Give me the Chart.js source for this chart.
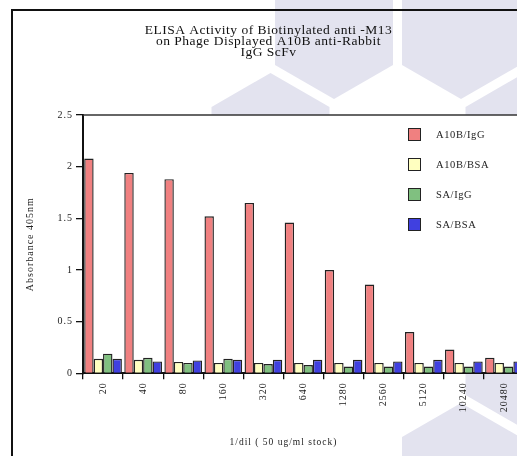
<!DOCTYPE html>
<html>
<head>
<meta charset="utf-8">
<script src="https://cdn.jsdelivr.net/npm/chart.js@4/dist/chart.umd.min.js"></script>
<style>
  html, body { margin: 0; padding: 0; width: 517px; height: 456px; overflow: hidden; background: #ffffff; }
  #wm { position: absolute; left: 0; top: 0; width: 517px; height: 456px; }
  #frame { position: absolute; left: 11px; top: 9px; width: 560px; height: 490px; border: 2px solid #111; box-sizing: border-box; }
  #wrap { position: absolute; left: 13px; top: 11px; width: 530px; height: 470px; }
  #legend { position: absolute; left: 408px; top: 128px; font-family: "Liberation Serif", serif; font-size: 10.5px; color: #222; letter-spacing: 0.6px; }
  .li { position: absolute; left: 0; height: 14px; white-space: nowrap; }
  .sw { position: absolute; left: 0; top: 0; width: 11px; height: 11px; border: 1.5px solid #222; }
  .lt { position: absolute; left: 28px; top: 0; line-height: 14px; }
</style>
</head>
<body>
<svg id="wm" width="517" height="456" viewBox="0 0 517 456"></svg>
<div id="frame"></div>
<div id="wrap"><canvas id="c"></canvas></div>
<div id="legend"></div>
<script>
// ---- data ----
const categories = ['20','40','80','160','320','640','1280','2560','5120','10240','20480'];
const a10bIgG = [2.08, 1.94, 1.88, 1.52, 1.65, 1.46, 1.00, 0.86, 0.40, 0.23, 0.15];
const a10bBSA = [0.14, 0.13, 0.11, 0.10, 0.10, 0.10, 0.10, 0.10, 0.10, 0.10, 0.10];
const saIgG   = [0.19, 0.15, 0.10, 0.14, 0.09, 0.08, 0.065, 0.065, 0.065, 0.065, 0.065];
const saBSA   = [0.14, 0.115, 0.125, 0.13, 0.13, 0.13, 0.13, 0.115, 0.13, 0.115, 0.115];
const seriesLabels = ['A10B/IgG', 'A10B/BSA', 'SA/IgG', 'SA/BSA'];
const yTicks = [0, 0.5, 1, 1.5, 2, 2.5];
const titleLines = ['ELISA Activity of Biotinylated anti -M13', 'on Phage Displayed A10B anti-Rabbit', 'IgG ScFv'];
const yTitle = 'Absorbance 405nm';
const xTitle = '1/dil ( 50 ug/ml stock)';

// ---- styles ----
const colors = ['#F08080', '#FFFFC0', '#80C080', '#4040E0'];
const FONT = '"Liberation Serif", "Times New Roman", serif';

// background watermark (decorative hexagons)
(function () {
  const svg = document.getElementById('wm');
  const centers = [[334, 31], [461, 31], [270.5, 141], [524.5, 141], [524.5, 361], [461, 471]];
  const a = 59, h = 34.05, t = 68.1;
  centers.forEach(([cx, cy]) => {
    const pts = [[cx, cy - t], [cx + a, cy - h], [cx + a, cy + h], [cx, cy + t], [cx - a, cy + h], [cx - a, cy - h]]
      .map(p => p.join(',')).join(' ');
    const poly = document.createElementNS('http://www.w3.org/2000/svg', 'polygon');
    poly.setAttribute('points', pts);
    poly.setAttribute('fill', '#E3E3EF');
    svg.appendChild(poly);
  });
})();

const dataSets = [a10bIgG, a10bBSA, saIgG, saBSA].map((vals, i) => ({
  label: seriesLabels[i],
  data: vals,
  backgroundColor: colors[i],
  borderColor: '#222',
  borderWidth: 1.4,
  borderSkipped: 'bottom',
  barPercentage: 1.0,
  categoryPercentage: 0.94
}));

// letter-spaced drawing for a scale, optional horizontal shift of its title
function styleScale(scale, spacing, titleShift) {
  if (scale.$styled) return;
  const origDraw = scale.draw;
  scale.draw = function (ca) {
    const c = this.ctx;
    const prev = c.letterSpacing;
    c.letterSpacing = spacing;
    origDraw.call(this, ca);
    c.letterSpacing = prev;
  };
  if (titleShift) {
    const origTitle = scale.drawTitle;
    scale.drawTitle = function () {
      this.ctx.save();
      this.ctx.translate(titleShift, 0);
      origTitle.call(this);
      this.ctx.restore();
    };
  }
  scale.$styled = true;
}

const plotFrame = {
  id: 'plotFrame',
  beforeDraw(chart) {
    const {ctx, chartArea: ca} = chart;
    ctx.letterSpacing = '0.5px';
    ctx.save();
    ctx.fillStyle = '#ffffff';
    ctx.fillRect(ca.left, ca.top, ca.right - ca.left + 40, ca.bottom - ca.top);
    ctx.restore();
  },
  afterDraw(chart) {
    const {ctx, chartArea: ca} = chart;
    ctx.save();
    ctx.strokeStyle = '#333';
    ctx.lineWidth = 1.5;
    ctx.beginPath();
    ctx.moveTo(ca.left, ca.top);
    ctx.lineTo(chart.width, ca.top);
    ctx.stroke();
    ctx.restore();
  }
};

new Chart(document.getElementById('c'), {
  type: 'bar',
  data: { labels: categories, datasets: dataSets },
  plugins: [plotFrame],
  options: {
    responsive: true,
    maintainAspectRatio: false,
    animation: false,
    layout: { padding: { left: 0, right: 19, top: 0, bottom: 0 } },
    plugins: {
      legend: { display: false },
      tooltip: { enabled: false },
      title: {
        display: true,
        text: titleLines,
        color: '#111',
        font: { family: FONT, size: 13.5, weight: 'normal', lineHeight: 0.84 },
        padding: { top: 13.3, bottom: 56.8 }
      }
    },
    scales: {
      x: {
        offset: true,
        grid: { display: true, drawOnChartArea: false, tickLength: 6, color: '#111', lineWidth: 1.3 },
        border: { display: true, color: '#111', width: 2 },
        ticks: { color: '#222', font: { family: FONT, size: 10 }, maxRotation: 90, minRotation: 90, padding: 3, autoSkip: false },
        title: { display: true, text: xTitle, color: '#222', font: { family: FONT, size: 9.5 }, padding: { top: 0, bottom: 33.3 } },
        afterFit(scale) { scale.height = 107.7; styleScale(scale, '1px', -20); }
      },
      y: {
        min: 0, max: 2.5,
        afterBuildTicks(scale) { scale.ticks = yTicks.map(v => ({ value: v })); },
        grid: { display: true, drawOnChartArea: false, tickLength: 7, color: '#111', lineWidth: 1.3 },
        border: { display: true, color: '#111', width: 2 },
        ticks: { color: '#222', font: { family: FONT, size: 10 }, padding: 3, callback: v => String(v) },
        title: { display: true, text: yTitle, color: '#222', font: { family: FONT, size: 10 }, padding: { top: 11, bottom: 0 } },
        afterFit(scale) { scale.width = 70; styleScale(scale, '1px', 0); }
      }
    }
  }
});

// HTML legend built from the datasets
(function () {
  const lg = document.getElementById('legend');
  dataSets.forEach((ds, i) => {
    const row = document.createElement('div');
    row.className = 'li';
    row.style.top = (i * 30) + 'px';
    const sw = document.createElement('span');
    sw.className = 'sw';
    sw.style.background = ds.backgroundColor;
    const tx = document.createElement('span');
    tx.className = 'lt';
    tx.textContent = ds.label;
    row.appendChild(sw); row.appendChild(tx);
    lg.appendChild(row);
  });
})();
</script>
</body>
</html>
